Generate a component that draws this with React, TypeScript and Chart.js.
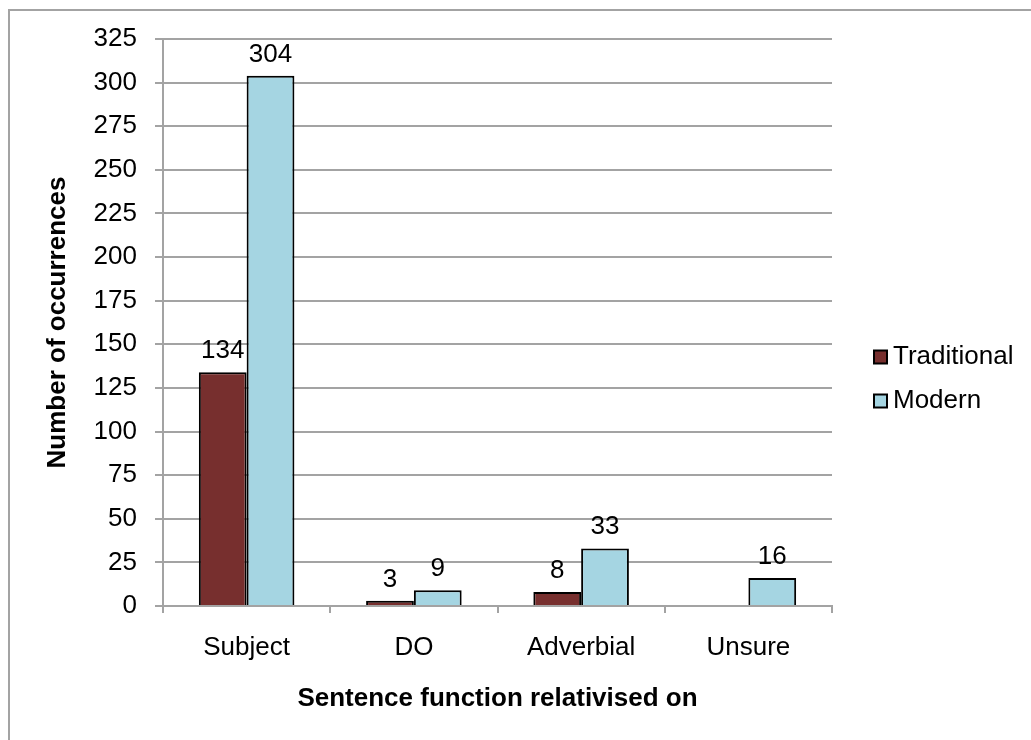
import React, { useEffect, useRef } from "react";
import { Chart, registerables } from "chart.js";

Chart.register(...registerables);

const categories = ["Subject", "DO", "Adverbial", "Unsure"];
const seriesNames = ["Traditional", "Modern"];
const traditional: (number | null)[] = [134, 3, 8, null];
const modern: (number | null)[] = [304, 9, 33, 16];
const seriesColors = ["#772F2E", "#A5D5E2"];
const yMin = 0;
const yMax = 325;
const yStep = 25;
const xTitle = "Sentence function relativised on";
const yTitle = "Number of occurrences";

const FONT = "'Liberation Sans', Arial, Helvetica, sans-serif";
const GRID = "#a3a3a3";

// Frame, axis titles, value labels and the legend on the right.
const decorations = {
  id: "decorations",
  beforeDraw(chart: any) {
    const ctx = chart.ctx;
    ctx.save();
    ctx.fillStyle = "#ffffff";
    ctx.fillRect(0, 0, chart.width, chart.height);
    ctx.strokeStyle = GRID;
    ctx.lineWidth = 2;
    ctx.strokeRect(9, 10, chart.width + 40, chart.height + 40);
    ctx.restore();
  },
  afterDatasetsDraw(chart: any) {
    const ctx = chart.ctx;
    const area = chart.chartArea;
    ctx.save();
    ctx.fillStyle = "#000";

    // value labels above each bar
    ctx.font = `26px ${FONT}`;
    ctx.textAlign = "center";
    ctx.textBaseline = "alphabetic";
    chart.data.datasets.forEach((ds: any, di: number) => {
      const meta = chart.getDatasetMeta(di);
      meta.data.forEach((el: any, i: number) => {
        const v = ds.data[i];
        if (v === null || v === undefined) return;
        ctx.fillText(String(v), el.x, el.y - 14);
      });
    });

    // axis titles
    ctx.font = `bold 26px ${FONT}`;
    ctx.textBaseline = "middle";
    ctx.fillText(xTitle, (area.left + area.right) / 2, 699);
    ctx.save();
    ctx.translate(58, (area.top + area.bottom) / 2);
    ctx.rotate(-Math.PI / 2);
    ctx.fillText(yTitle, 0, 0);
    ctx.restore();

    // legend
    ctx.font = `26px ${FONT}`;
    ctx.textAlign = "left";
    chart.data.datasets.forEach((ds: any, di: number) => {
      const cy = 357 + di * 44;
      ctx.fillStyle = ds.backgroundColor;
      ctx.fillRect(874, cy - 6.5, 13, 13);
      ctx.strokeStyle = "#000";
      ctx.lineWidth = 2;
      ctx.strokeRect(874, cy - 6.5, 13, 13);
      ctx.fillStyle = "#000";
      ctx.fillText(ds.label, 893, cy);
    });
    ctx.restore();
  },
};

export default function App() {
  const canvasRef = useRef<HTMLCanvasElement | null>(null);

  useEffect(() => {
    if (!canvasRef.current) return;
    const chart = new Chart(canvasRef.current, {
      type: "bar",
      data: {
        labels: categories,
        datasets: [
          {
            label: seriesNames[0],
            data: traditional,
            backgroundColor: seriesColors[0],
            borderColor: "#000",
            borderWidth: 2,
            categoryPercentage: 0.5714,
            barPercentage: 1,
          },
          {
            label: seriesNames[1],
            data: modern,
            backgroundColor: seriesColors[1],
            borderColor: "#000",
            borderWidth: 2,
            categoryPercentage: 0.5714,
            barPercentage: 1,
          },
        ],
      },
      options: {
        responsive: false,
        animation: false,
        layout: { padding: { left: 0, top: 39, right: 199, bottom: 0 } },
        plugins: {
          legend: { display: false },
          tooltip: { enabled: false },
        },
        scales: {
          x: {
            grid: {
              display: true,
              drawOnChartArea: false,
              drawTicks: true,
              tickLength: 7,
              color: GRID,
              lineWidth: 2,
              offset: true,
            },
            border: { display: true, color: GRID, width: 2 },
            ticks: {
              color: "#000",
              font: { family: FONT, size: 26 },
              padding: 19,
              maxRotation: 0,
            },
            afterFit(scale: any) {
              scale.height = 134;
            },
          },
          y: {
            min: yMin,
            max: yMax,
            grid: {
              color: GRID,
              lineWidth: 2,
              drawTicks: true,
              tickLength: 8,
            },
            border: { display: true, color: GRID, width: 2 },
            ticks: {
              stepSize: yStep,
              color: "#000",
              font: { family: FONT, size: 26 },
              padding: 18,
            },
            afterFit(scale: any) {
              scale.width = 163;
            },
          },
        },
      },
      plugins: [decorations],
    });
    return () => chart.destroy();
  }, []);

  return (
    <div style={{ position: "fixed", left: 0, top: 0, width: 1031, height: 740 }}>
      <canvas ref={canvasRef} width={1031} height={740} style={{ display: "block" }} />
    </div>
  );
}
